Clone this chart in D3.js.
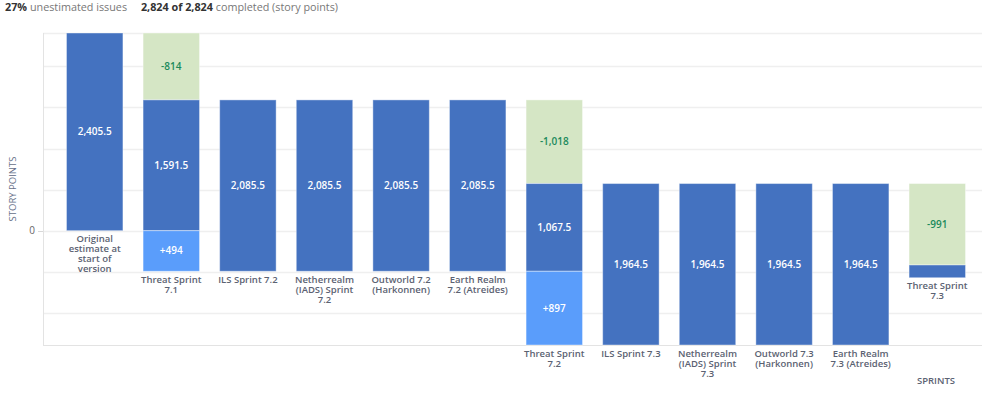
<!DOCTYPE html>
<html>
<head>
<meta charset="utf-8">
<script src="https://cdn.jsdelivr.net/npm/d3@7"></script>
<style>
  body { margin:0; background:#fff; font-family:"Open Sans", sans-serif; }
  svg text { font-family:"Open Sans", sans-serif; }
</style>
</head>
<body>
<script>
// sprints, in order (line breaks as shown under the bars)
var categories = [
  "Original\nestimate at\nstart of\nversion",
  "Threat Sprint\n7.1",
  "ILS Sprint 7.2",
  "Netherrealm\n(IADS) Sprint\n7.2",
  "Outworld 7.2\n(Harkonnen)",
  "Earth Realm\n7.2 (Atreides)",
  "Threat Sprint\n7.2",
  "ILS Sprint 7.3",
  "Netherrealm\n(IADS) Sprint\n7.3",
  "Outworld 7.3\n(Harkonnen)",
  "Earth Realm\n7.3 (Atreides)",
  "Threat Sprint\n7.3"
];
var completed = [0, 814, 0, 0, 0, 0, 1018, 0, 0, 0, 0, 991];
var remaining = [2405.5, 1591.5, 2085.5, 2085.5, 2085.5, 2085.5, 1067.5, 1964.5, 1964.5, 1964.5, 1964.5, 155];
var added     = [0, 494, 0, 0, 0, 0, 897, 0, 0, 0, 0, 0];

var svgW = 982, svgH = 396, plotTop = 33, plotBottom = 345, plotLeft = 43;
var fmt = d3.format(",");

// stack the segments: each bar starts where the previous one's completed part ended
var bars = [], level = remaining[0];
categories.forEach(function(c, i){
  var t = level, segs = [];
  if(completed[i]) segs.push({k:'done', y0:t, y1:t-completed[i], l:'-'+fmt(completed[i])});
  var r0 = t - completed[i];
  segs.push({k:'rem', y0:r0, y1:r0-remaining[i], l:fmt(remaining[i])});
  var a0 = r0 - remaining[i];
  if(added[i]) segs.push({k:'add', y0:a0, y1:a0-added[i], l:'+'+fmt(added[i])});
  bars.push({c:c, i:i, segs:segs, low:a0-added[i]});
  level = r0;
});

var y = d3.scaleLinear()
  .domain([d3.min(bars, function(b){ return b.low; }), remaining[0]])
  .range([plotBottom, plotTop]);
var x = d3.scaleBand().domain(d3.range(categories.length))
  .range([plotLeft, 989]).paddingInner(0.25).paddingOuter(0.3);

var colors = {done:'#d5e6c5', rem:'#4472c0', add:'#5a9dfb'};
var textCol = {done:'#1b8a5c', rem:'#fff', add:'#fff'};

var hdr = d3.select('body').append('div')
  .style('position','absolute').style('left','5px').style('top','-1px').style('z-index','2')
  .style('font-size','10.8px').style('color','#777').style('white-space','nowrap');
hdr.html('<b style="color:#333">27%</b> unestimated issues <span style="display:inline-block;width:11px"></span><b style="color:#333">2,824 of 2,824</b> completed (story points)');

var svg = d3.select('body').append('svg').attr('width', svgW).attr('height', svgH)
  .style('position','absolute').style('left','0').style('top','0');

// grid
svg.append('g').selectAll('line').data(y.ticks(8).concat([y.domain()[1]]))
  .enter().append('line')
  .attr('x1', plotLeft).attr('x2', svgW)
  .attr('y1', function(d){ return Math.round(y(d))+0.5; }).attr('y2', function(d){ return Math.round(y(d))+0.5; })
  .attr('stroke', '#efefef').attr('stroke-width', 1.5);
svg.append('line').attr('x1', plotLeft).attr('x2', svgW).attr('y1', plotBottom+0.5).attr('y2', plotBottom+0.5)
  .attr('stroke', '#e3e3e3');
svg.append('line').attr('x1', plotLeft+0.5).attr('x2', plotLeft+0.5).attr('y1', plotTop).attr('y2', plotBottom)
  .attr('stroke', '#e3e3e3');
svg.append('line').attr('x1', plotLeft-5).attr('x2', plotLeft).attr('y1', Math.round(y(0))+0.5).attr('y2', Math.round(y(0))+0.5)
  .attr('stroke', '#d8d8d8');
svg.append('text').attr('x', plotLeft-8).attr('y', y(0)).attr('dy','0.35em').attr('text-anchor','end')
  .attr('font-size', 10).attr('fill', '#666').text('0');

svg.append('text').attr('transform', 'translate(16,' + 189 + ') rotate(-90)')
  .attr('text-anchor','middle').attr('font-size', 9.5).attr('fill', '#667088').text('STORY POINTS');
svg.append('text').attr('x', 936).attr('y', 384).attr('text-anchor','middle')
  .attr('font-size', 9.5).attr('font-weight', 600).attr('fill', '#5b6272').text('SPRINTS');

// bars
var g = svg.append('g').selectAll('g').data(bars).enter().append('g');
g.selectAll('rect').data(function(b){ return b.segs; }).enter().append('rect')
  .attr('x', function(d){ return x(d3.select(this.parentNode).datum().i) + 0.5; })
  .attr('width', x.bandwidth() - 1)
  .attr('y', function(d){ return y(d.y0); })
  .attr('height', function(d){ return y(d.y1) - y(d.y0); })
  .attr('fill', function(d){ return colors[d.k]; })
  .attr('stroke', 'rgba(255,255,255,0.4)');

g.selectAll('text.v').data(function(b){ return b.segs.filter(function(s){ return y(s.y1)-y(s.y0) > 20; }); })
  .enter().append('text').attr('class','v')
  .attr('x', function(d){ return x(d3.select(this.parentNode).datum().i) + x.bandwidth()/2; })
  .attr('y', function(d){ return (y(d.y0)+y(d.y1))/2; })
  .attr('dy', '0.35em').attr('text-anchor','middle')
  .attr('font-size', 10).attr('font-weight', 600)
  .attr('fill', function(d){ return textCol[d.k]; })
  .text(function(d){ return d.l; });

// category labels hang under each bar's lowest point
g.append('text')
  .attr('text-anchor','middle').attr('font-size', 9.5).attr('font-weight', 600).attr('fill', '#5b6272')
  .each(function(b){
    var t = d3.select(this), cx = x(b.i) + x.bandwidth()/2;
    b.c.split('\n').forEach(function(line, j){
      t.append('tspan').attr('x', cx).attr('y', y(b.low) + 11.5 + j*10).text(line);
    });
  });
</script>
</body>
</html>
